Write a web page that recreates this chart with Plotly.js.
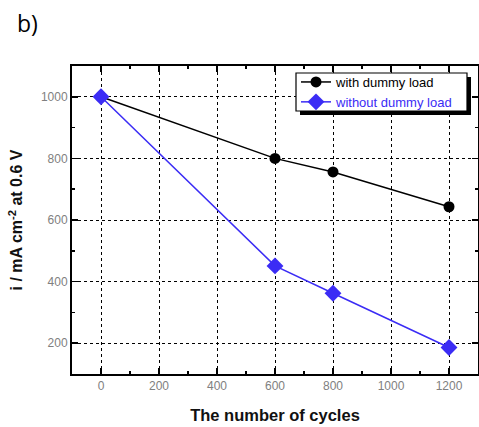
<!DOCTYPE html>
<html>
<head>
<meta charset="utf-8">
<script src="https://cdn.plot.ly/plotly-3.0.1.min.js"></script>
<style>html,body{margin:0;padding:0;background:#fff;}#chart{width:479px;height:427px;}</style>
</head>
<body>
<div id="chart"></div>
<script>
const cycles = [0, 600, 800, 1200];
const withDummy = [1000, 800, 756, 643];
const withoutDummy = [1000, 451, 362, 186];
const seriesNames = ["with dummy load", "without dummy load"];

const W = 479, H = 427;
const m = {l: 72, r: 1, t: 66, b: 53};
const pw = W - m.l - m.r, ph = H - m.t - m.b;
const px = v => (v - m.l) / pw;
const py = v => (H - m.b - v) / ph;

const blue = '#3b2cf5';
const traces = [
  {x: cycles, y: withDummy, name: seriesNames[0], type: 'scatter', mode: 'lines+markers',
   line: {color: '#000', width: 1.5}, marker: {symbol: 'circle', size: 11, color: '#000'}},
  {x: cycles, y: withoutDummy, name: '<span style="color:' + blue + '">' + seriesNames[1] + '</span>', type: 'scatter', mode: 'lines+markers',
   line: {color: blue, width: 1.5}, marker: {symbol: 'diamond', size: 13, color: blue}}
];

const axisCommon = {
  showline: true, linecolor: '#000', linewidth: 2, mirror: 'ticks',
  ticks: 'inside', ticklen: 6, tickwidth: 1.5, tickcolor: '#000',
  showgrid: true, gridcolor: '#000', griddash: 'dot', gridwidth: 1,
  zeroline: false,
  tickfont: {family: 'Liberation Sans, Arial', size: 12, color: '#808080'},
  minor: {ticks: 'inside', ticklen: 3, tickwidth: 1.5, tickcolor: '#000', dtick: 100, showgrid: false}
};

const layout = {
  width: W, height: H, margin: m,
  paper_bgcolor: '#fff', plot_bgcolor: '#fff',
  showlegend: true,
  legend: {x: px(296), y: py(67), xanchor: 'left', yanchor: 'top',
    bgcolor: 'rgba(0,0,0,0)', borderwidth: 0,
    font: {family: 'Liberation Sans, Arial', size: 13, color: '#000'},
    tracegroupgap: 0, itemwidth: 30},
  xaxis: Object.assign({}, axisCommon, {range: [-100, 1300], dtick: 200, tick0: 0,
    title: {text: '<b>The number of cycles</b>', font: {family: 'Liberation Sans, Arial', size: 16.5, color: '#111'}, standoff: 17}}),
  yaxis: Object.assign({}, axisCommon, {range: [100, 1100], dtick: 200, tick0: 0,
    title: {text: '<b>i / mA cm<sup>-2</sup> at 0.6 V</b>', font: {family: 'Liberation Sans, Arial', size: 16, color: '#111'}, standoff: 14}}),
  annotations: [
    {text: 'b)', xref: 'paper', yref: 'paper', x: px(15), y: py(5), xanchor: 'left', yanchor: 'top',
     showarrow: false, font: {family: 'Open Sans, Noto Sans, sans-serif', size: 23, color: '#000'}}
  ],
  shapes: [
    {type: 'rect', xref: 'paper', yref: 'paper', x0: px(300), x1: px(471), y0: py(77), y1: py(115),
     fillcolor: '#000', line: {width: 0}, layer: 'above'},
    {type: 'rect', xref: 'paper', yref: 'paper', x0: px(296), x1: px(467), y0: py(73), y1: py(111),
     fillcolor: '#fff', line: {width: 1.2, color: '#000'}, layer: 'above'}
  ]
};

Plotly.newPlot('chart', traces, layout, {displayModeBar: false, staticPlot: true});
</script>
</body>
</html>
